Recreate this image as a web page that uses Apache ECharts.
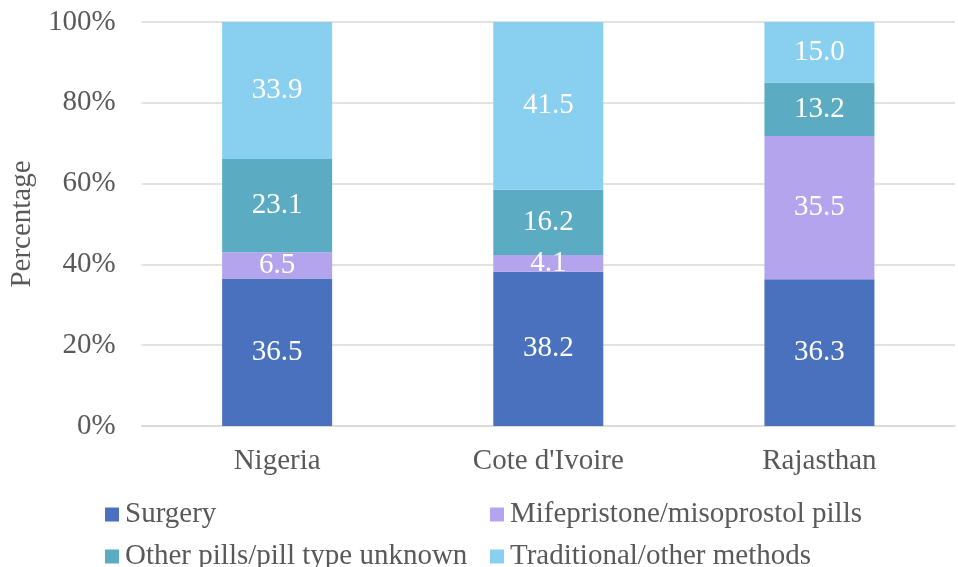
<!DOCTYPE html>
<html>
<head>
<meta charset="utf-8">
<script src="https://cdn.jsdelivr.net/npm/echarts@6/dist/echarts.min.js"></script>
<style>
  html, body { margin: 0; padding: 0; background: #ffffff; }
  #chart { width: 958px; height: 567px; }
</style>
</head>
<body>
<div id="chart"></div>
<script>
// data
const categories = ['Nigeria', "Cote d'Ivoire", 'Rajasthan'];
const surgery = [36.5, 38.2, 36.3];
const mifepristone = [6.5, 4.1, 35.5];
const otherPills = [23.1, 16.2, 13.2];
const traditional = [33.9, 41.5, 15.0];
const seriesNames = ['Surgery', 'Mifepristone/misoprostol pills', 'Other pills/pill type unknown', 'Traditional/other methods'];
const seriesColors = ['#4A71BD', '#B4A4EE', '#5BABC2', '#89CFEF'];

const font = "'Liberation Serif', 'Times New Roman', serif";
const textColor = '#595959';
const fs = 29;

function makeSeries(name, values, color) {
  return {
    name: name,
    type: 'bar',
    stack: 'total',
    barWidth: 110,
    itemStyle: { color: color },
    label: {
      show: true,
      position: 'inside',
      color: '#ffffff',
      fontFamily: font,
      fontSize: fs,
      formatter: p => p.value.toFixed(1)
    },
    data: values
  };
}

// one legend per entry so the 2x2 layout sits where the picture has it
function makeLegend(name, left, top) {
  return {
    left: left, top: top,
    itemWidth: 14, itemHeight: 14,
    icon: 'rect',
    textStyle: { color: textColor, fontSize: fs, fontFamily: font, padding: [0, 0, 0, 1] },
    data: [name]
  };
}

const chart = echarts.init(document.getElementById('chart'));
chart.setOption({
  animation: false,
  textStyle: { fontFamily: font },
  grid: { left: 139, right: 3, top: 22, bottom: 141, containLabel: false },
  legend: [
    makeLegend(seriesNames[0], 100, 495),
    makeLegend(seriesNames[2], 100, 537),
    makeLegend(seriesNames[1], 485, 495),
    makeLegend(seriesNames[3], 485, 537)
  ],
  xAxis: {
    type: 'category',
    data: categories,
    axisLine: { lineStyle: { color: '#d9d9d9', width: 1.5 } },
    axisTick: { show: false },
    axisLabel: { color: textColor, fontSize: fs, fontFamily: font, margin: 21 }
  },
  yAxis: {
    type: 'value',
    min: 0, max: 100, interval: 20,
    name: 'Percentage',
    nameLocation: 'middle',
    nameGap: 97,
    nameTextStyle: { color: textColor, fontSize: fs, fontFamily: font },
    axisLine: { show: false },
    axisTick: { show: false },
    splitLine: { lineStyle: { color: '#d9d9d9', width: 1.5 } },
    axisLabel: { color: textColor, fontSize: fs, fontFamily: font, margin: 26, formatter: '{value}%' }
  },
  series: [
    makeSeries(seriesNames[0], surgery, seriesColors[0]),
    makeSeries(seriesNames[1], mifepristone, seriesColors[1]),
    makeSeries(seriesNames[2], otherPills, seriesColors[2]),
    makeSeries(seriesNames[3], traditional, seriesColors[3])
  ]
});
</script>
</body>
</html>
